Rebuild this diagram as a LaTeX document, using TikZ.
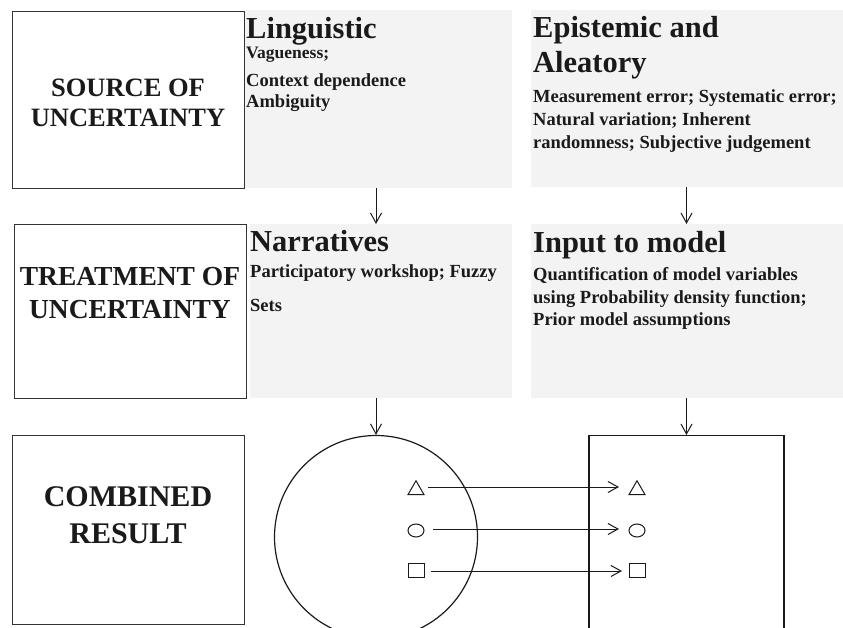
\documentclass[tikz,border=0pt]{standalone}
\usepackage{fontspec}
\setmainfont{Liberation Serif}
\usetikzlibrary{arrows.meta,shapes.geometric}
\definecolor{boxgray}{HTML}{F3F3F3}
\definecolor{ink}{HTML}{1A1A1A}
\definecolor{edge}{HTML}{333333}
\begin{document}
\begin{tikzpicture}[x=1pt,y=-1pt,
  frame/.style={draw=edge,line width=1.2pt,fill=white,inner sep=0,anchor=north west},
  panel/.style={fill=boxgray,inner sep=0,anchor=north west},
  bigtxt/.style={text=ink,inner sep=0,anchor=base,font=\fontsize{27}{30}\bfseries},
  headtxt/.style={text=ink,inner sep=0,anchor=base west,font=\fontsize{30.5}{34}\bfseries},
  smalltxt/.style={text=ink,inner sep=0,anchor=base west,font=\fontsize{18.5}{22}\bfseries},
  arr/.style={draw=ink,line width=1pt,-{Straight Barb[length=10pt,width=11pt,line width=1pt]}},
  shp/.style={draw=ink,line width=1pt,inner sep=0,fill=white}
]
\useasboundingbox (0,0) rectangle (843,628);
\clip (0,0) rectangle (843,628);

% row 1
\node[frame,minimum width=232pt,minimum height=177pt] (src) at (12,11) {};
\node[panel,minimum width=267pt,minimum height=178pt] (ling) at (245,10) {};
\node[panel,minimum width=312pt,minimum height=177pt] (epi) at (531,10) {};
\node[bigtxt,font=\fontsize{26.5}{30}\bfseries] (src1) at (128,97) {SOURCE OF};
\node[bigtxt,font=\fontsize{26.5}{30}\bfseries] (src2) at (128,127) {UNCERTAINTY};
\node[headtxt] (lingh) at (246,39) {Linguistic};
\node[smalltxt,font=\fontsize{17.5}{22}\bfseries] (ling1) at (246,59) {Vagueness;};
\node[smalltxt] (ling2) at (246,87) {Context dependence};
\node[smalltxt] (ling3) at (246,108) {Ambiguity};
\node[headtxt] (epih1) at (533,38) {Epistemic and};
\node[headtxt] (epih2) at (533,73) {Aleatory};
\node[smalltxt] (epi1) at (533,103) {Measurement error; Systematic error;};
\node[smalltxt] (epi2) at (533,126) {Natural variation; Inherent};
\node[smalltxt] (epi3) at (533,149) {randomness; Subjective judgement};

% row 2
\node[frame,minimum width=232pt,minimum height=174pt] (trt) at (14,224) {};
\node[panel,minimum width=262pt,minimum height=174pt] (narr) at (250,224) {};
\node[panel,minimum width=312pt,minimum height=174pt] (inp) at (531,224) {};
\node[bigtxt,font=\fontsize{27.5}{30}\bfseries] (trt1) at (130,286) {TREATMENT OF};
\node[bigtxt,font=\fontsize{27.5}{30}\bfseries] (trt2) at (130,319) {UNCERTAINTY};
\node[headtxt] (narrh) at (250,252) {Narratives};
\node[smalltxt] (narr1) at (250,277) {Participatory workshop; Fuzzy};
\node[smalltxt] (narr2) at (250,312) {Sets};
\node[headtxt] (inph) at (533,253) {Input to model};
\node[smalltxt] (inp1) at (533,280) {Quantification of model variables};
\node[smalltxt] (inp2) at (533,303) {using Probability density function;};
\node[smalltxt] (inp3) at (533,325) {Prior model assumptions};

% row 3
\node[frame,minimum width=232pt,minimum height=189pt] (comb) at (12,435) {};
\node[bigtxt,font=\fontsize{30}{34}\bfseries] (comb1) at (128,506) {COMBINED};
\node[bigtxt,font=\fontsize{30}{34}\bfseries] (comb2) at (128,543) {RESULT};
\node[draw=ink,line width=1.2pt,circle,minimum size=203pt,inner sep=0] (circ) at (376,537) {};
\node[draw=ink,line width=1.2pt,inner sep=0,anchor=north,minimum width=195pt,minimum height=260pt] (rect) at (686.5,435) {};

% symbols
\node[shp,regular polygon,regular polygon sides=3,minimum size=18.5pt] (triA) at (416,490) {};
\node[shp,ellipse,minimum width=16pt,minimum height=13pt] (ellA) at (416,530.5) {};
\node[shp,rectangle,minimum width=16pt,minimum height=14pt] (sqA) at (416,570) {};
\node[shp,regular polygon,regular polygon sides=3,minimum size=18.5pt] (triB) at (637,490) {};
\node[shp,ellipse,minimum width=16pt,minimum height=13pt] (ellB) at (637,530.5) {};
\node[shp,rectangle,minimum width=16pt,minimum height=14pt] (sqB) at (637,570) {};

% connectors
\draw[arr] (ling.south -| circ.north) -- (narr.north -| circ.north);
\draw[arr] (epi.south -| rect.north) -- (inp.north -| rect.north);
\draw[arr] (narr.south -| circ.north) -- (circ.north);
\draw[arr] (inp.south -| rect.north) -- (rect.north);
\draw[arr,shorten <=12pt,shorten >=18pt] ([yshift=3pt]triA.center) -- ([yshift=3pt]triB.center);
\draw[arr,shorten <=17pt,shorten >=18pt] ([yshift=1.5pt]ellA.center) -- ([yshift=1.5pt]ellB.center);
\draw[arr,shorten <=15pt,shorten >=15pt] ([yshift=-1pt]sqA.center) -- ([yshift=-1pt]sqB.center);
\end{tikzpicture}
\end{document}
